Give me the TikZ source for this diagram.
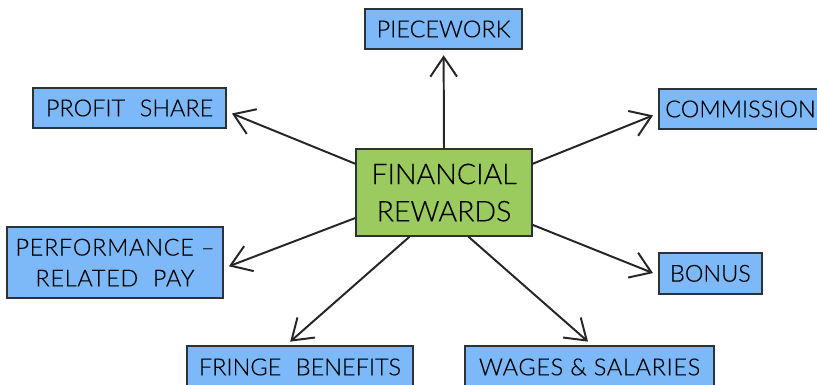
\documentclass[tikz,border=0pt]{standalone}
\usepackage{fontspec}
\setmainfont[FakeBold=0.25]{Lato Light}
\usetikzlibrary{arrows.meta}

\definecolor{rewardblue}{HTML}{7DB8F8}
\definecolor{rewardgreen}{HTML}{9BCB5F}
\definecolor{rewardline}{HTML}{2B3338}

\newcommand{\wordgap}{\hspace{.62em}}

\tikzset{
  rewardbox/.style={
    draw=rewardline,
    line width=.9pt,
    fill=rewardblue,
    shape=rectangle,
    inner sep=0pt,
    align=center,
    font=\fontsize{16.7}{22}\selectfont,
  },
  hubbox/.style={
    rewardbox,
    fill=rewardgreen,
    font=\fontsize{20.3}{26.5}\selectfont,
  },
  widetext/.style={
    font=\fontsize{16.7}{22}\selectfont\addfontfeature{LetterSpace=3},
  },
  rewardarrow/.style={
    draw=black!85,
    line width=1.4pt,
    -{Straight Barb[length=14pt,width=19pt,line width=1.4pt]},
    shorten >=4pt,
  },
}

\begin{document}
\begin{tikzpicture}
  \useasboundingbox (0, 0) rectangle (20.425, 9.625);

  \node[hubbox, minimum width=4.4cm, minimum height=2.175cm] (hub) at (11.1, 4.81) {FINANCIAL\\REWARDS};
  \node[rewardbox, minimum width=3.925cm, minimum height=1cm] (piecework) at (11.09, 8.9) {PIECEWORK};
  \node[rewardbox, minimum width=4.825cm, minimum height=1cm] (profit) at (3.24, 6.925) {PROFIT\wordgap SHARE};
  \node[rewardbox, minimum width=4.075cm, minimum height=1cm] (commission) at (18.51, 6.9) {COMMISSION};
  \node[rewardbox, widetext, minimum width=5.4cm, minimum height=1.775cm] (performance) at (2.875, 3.06) {PERFORMANCE --\\RELATED\wordgap PAY};
  \node[rewardbox, minimum width=2.575cm, minimum height=1.025cm] (bonus) at (17.76, 2.79) {BONUS};
  \node[rewardbox, minimum width=5.65cm, minimum height=1.05cm] (fringe) at (7.5, 0.45) {FRINGE\wordgap BENEFITS};
  \node[rewardbox, widetext, minimum width=6.225cm, minimum height=1.05cm] (wages) at (14.74, 0.45) {WAGES \& SALARIES};

  \draw[rewardarrow] (hub.north) -- (piecework.south);
  \draw[rewardarrow] (hub.162) -- (profit.-2.4);
  \draw[rewardarrow] (hub.18.5) -- (commission.183.5);
  \draw[rewardarrow] (hub.196.8) -- (performance.-3.4);
  \draw[rewardarrow] (hub.340.9) -- (bonus.182.8);
  \draw[rewardarrow] (hub.232) -- (fringe.123.7);
  \draw[rewardarrow] (hub.299) -- (wages.83);
\end{tikzpicture}
\end{document}
